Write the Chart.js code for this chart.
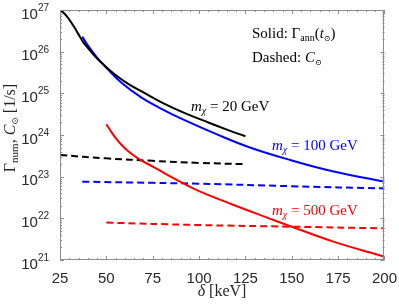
<!DOCTYPE html>
<html lang="en">
<head>
    <meta charset="UTF-8">
    <title>Gamma ann and capture rate vs delta</title>
    <style>
        html, body { margin: 0; padding: 0; background: #fff; }
        #wrap { width: 399px; height: 306px; }
    </style>
</head>
<body>
    <div id="wrap"><canvas id="myChart" width="399" height="306"></canvas></div>

    <script src="https://cdn.jsdelivr.net/npm/chart.js"></script>
    <script>
        // data (delta in keV, rates in 1/s)
        const blackSolidX = [25, 27.5, 30, 32.5, 35, 37.5, 40, 44, 48, 55, 62, 70, 80, 92, 105, 115, 125];
        const blackSolidY = [1.0e27, 8.1e26, 5.9e26, 4.0e26, 2.6e26, 1.7e26, 1.23e26, 7.6e25, 5.1e25, 2.75e25, 1.66e25, 1.05e25, 6.0e24, 3.4e24, 2.0e24, 1.35e24, 9.3e23];

        const blueSolidX = [37, 40, 45, 50, 58, 69, 80, 91, 110, 127, 148, 172, 200];
        const blueSolidY = [2.3e26, 1.41e26, 7.2e25, 4.1e25, 1.82e25, 7.9e24, 4.2e24, 2.4e24, 1.02e24, 5.1e23, 2.6e23, 1.35e23, 7.6e22];

        const redSolidX = [50, 52, 55, 58, 62, 67, 75, 82, 91, 100, 118, 136, 150, 172, 200];
        const redSolidY = [1.82e24, 1.32e24, 8.5e23, 5.9e23, 4.0e23, 2.75e23, 1.74e23, 1.17e23, 7.1e22, 4.5e22, 2.15e22, 1.07e22, 6.3e21, 2.8e21, 1.2e21];

        const blackDashX = [25, 50, 75, 100, 125];
        const blackDashY = [3.3e23, 2.75e23, 2.4e23, 2.14e23, 2.0e23];

        const blueDashX = [37, 75, 100, 150, 200];
        const blueDashY = [7.6e22, 7.1e22, 6.8e22, 5.9e22, 5.2e22];

        const redDashX = [50, 100, 150, 200];
        const redDashY = [7.9e21, 6.9e21, 6.3e21, 5.75e21];

        const yExponents = [21, 22, 23, 24, 25, 26, 27];

        const SANS = '"Liberation Sans", Arial, sans-serif';
        const SERIF = '"Liberation Serif", "DejaVu Serif", serif';
        const TXT = '#262626';
        const BOX = '#8c8c8c';

        function pts(xs, ys) {
            return xs.map((x, i) => ({ x: x, y: ys[i] }));
        }

        function line(xs, ys, color, dashed) {
            return {
                data: pts(xs, ys),
                borderColor: color,
                borderWidth: 2,
                borderDash: dashed ? [7, 4] : [],
                pointRadius: 0,
                fill: false,
                tension: 0.4
            };
        }

        // draw text made of several runs (font changes, sub/superscripts)
        function runsWidth(ctx, runs) {
            let w = 0;
            runs.forEach(r => { ctx.font = r[1]; w += ctx.measureText(r[0]).width + (r[3] || 0); });
            return w;
        }
        function drawRuns(ctx, x, y, runs, color) {
            ctx.fillStyle = color;
            ctx.textAlign = 'left';
            ctx.textBaseline = 'alphabetic';
            runs.forEach(r => {
                ctx.font = r[1];
                ctx.fillText(r[0], x, y + (r[2] || 0));
                x += ctx.measureText(r[0]).width + (r[3] || 0);
            });
        }

        const f15 = '15px ' + SERIF;
        const i15 = 'italic 15px ' + SERIF;
        const s10 = '10px ' + SERIF;
        const i10 = 'italic 10px ' + SERIF;

        const decor = {
            id: 'decor',
            afterDraw(chart) {
                const ctx = chart.ctx;
                const a = chart.chartArea;
                const xs = chart.scales.x;
                const ys = chart.scales.y;
                ctx.save();

                // box
                ctx.strokeStyle = BOX;
                ctx.lineWidth = 1;
                ctx.strokeRect(Math.round(a.left) + 0.5, Math.round(a.top) + 0.5,
                    Math.round(a.right - a.left) - 1, Math.round(a.bottom - a.top) - 1);

                // x ticks (inside, top and bottom)
                ctx.beginPath();
                for (let v = 25; v <= 200; v += 5) {
                    const px = Math.round(xs.getPixelForValue(v)) + 0.5;
                    const len = v % 25 === 0 ? 4 : 2;
                    ctx.moveTo(px, a.bottom); ctx.lineTo(px, a.bottom - len);
                    ctx.moveTo(px, a.top); ctx.lineTo(px, a.top + len);
                }
                // y ticks (log, inside, left and right)
                yExponents.forEach(k => {
                    for (let m = 1; m <= 9; m++) {
                        if (k === 27 && m > 1) break;
                        const py = Math.round(ys.getPixelForValue(m * Math.pow(10, k))) + 0.5;
                        const len = m === 1 ? 4 : 2;
                        ctx.moveTo(a.left, py); ctx.lineTo(a.left + len, py);
                        ctx.moveTo(a.right, py); ctx.lineTo(a.right - len, py);
                    }
                });
                ctx.stroke();

                // y tick labels 10^k
                yExponents.forEach(k => {
                    const py = ys.getPixelForValue(Math.pow(10, k));
                    const exp = String(k);
                    ctx.font = '10px ' + SANS;
                    const ew = ctx.measureText(exp).width;
                    const right = a.left - 11;
                    ctx.fillStyle = TXT;
                    ctx.textAlign = 'left';
                    ctx.textBaseline = 'alphabetic';
                    ctx.fillText(exp, right - ew, py + 1);
                    ctx.font = '15px ' + SANS;
                    ctx.textAlign = 'right';
                    ctx.fillText('10', right - ew, py + 8.5);
                });

                // axis titles
                const xt = [['δ', 'italic 16px ' + SERIF, 0, 4], ['[keV]', '16px ' + SERIF]];
                drawRuns(ctx, 222 - runsWidth(ctx, xt) / 2, 296, xt, TXT);

                const yt = [['Γ', '16px ' + SERIF], ['num', '11px ' + SERIF, 3], [', ', '16px ' + SERIF],
                    ['C', 'italic 16px ' + SERIF], ['⊙', '9px ' + SERIF, 3], [' [1/s]', '16px ' + SERIF]];
                const yw = runsWidth(ctx, yt);
                ctx.translate(15, 128);
                ctx.rotate(-Math.PI / 2);
                drawRuns(ctx, -yw / 2, 0, yt, TXT);
                ctx.setTransform(1, 0, 0, 1, 0, 0);

                // annotations
                drawRuns(ctx, 252, 38, [['Solid: Γ', f15], ['ann', s10, 3], ['(', f15], ['t', i15],
                    ['⊙', '8px ' + SERIF, 3], [')', f15]], '#000');
                drawRuns(ctx, 252, 62, [['Dashed: ', f15], ['C', i15], ['⊙', '8px ' + SERIF, 3]], '#000');
                drawRuns(ctx, 191, 111, [['m', i15], ['χ', i10, 3], [' = 20 GeV', f15]], '#000');
                drawRuns(ctx, 272, 150, [['m', i15], ['χ', i10, 3], [' = 100 GeV', f15]], '#0000ff');
                drawRuns(ctx, 272, 215, [['m', i15], ['χ', i10, 3], [' = 500 GeV', f15]], '#ff0000');

                ctx.restore();
            }
        };

        const ctx = document.getElementById('myChart').getContext('2d');
        const myChart = new Chart(ctx, {
            type: 'line',
            data: {
                datasets: [
                    line(blackSolidX, blackSolidY, '#000000', false),
                    line(blueSolidX, blueSolidY, '#0000ff', false),
                    line(redSolidX, redSolidY, '#ff0000', false),
                    line(blackDashX, blackDashY, '#000000', true),
                    line(blueDashX, blueDashY, '#0000ff', true),
                    line(redDashX, redDashY, '#ff0000', true)
                ]
            },
            options: {
                responsive: false,
                animation: false,
                events: [],
                layout: { padding: { left: 0, right: 14, top: 10, bottom: 0 } },
                plugins: {
                    legend: { display: false },
                    tooltip: { enabled: false }
                },
                scales: {
                    x: {
                        type: 'linear',
                        min: 25,
                        max: 200,
                        grid: { display: false },
                        border: { display: false },
                        ticks: {
                            stepSize: 25,
                            padding: 2,
                            color: TXT,
                            font: { family: SANS, size: 15 },
                            maxRotation: 0
                        },
                        afterFit: s => { s.height = 46; }
                    },
                    y: {
                        type: 'logarithmic',
                        min: 1e21,
                        max: 1e27,
                        grid: { display: false },
                        border: { display: false },
                        ticks: { display: false },
                        afterFit: s => { s.width = 60; }
                    }
                }
            },
            plugins: [decor]
        });
    </script>
</body>
</html>
